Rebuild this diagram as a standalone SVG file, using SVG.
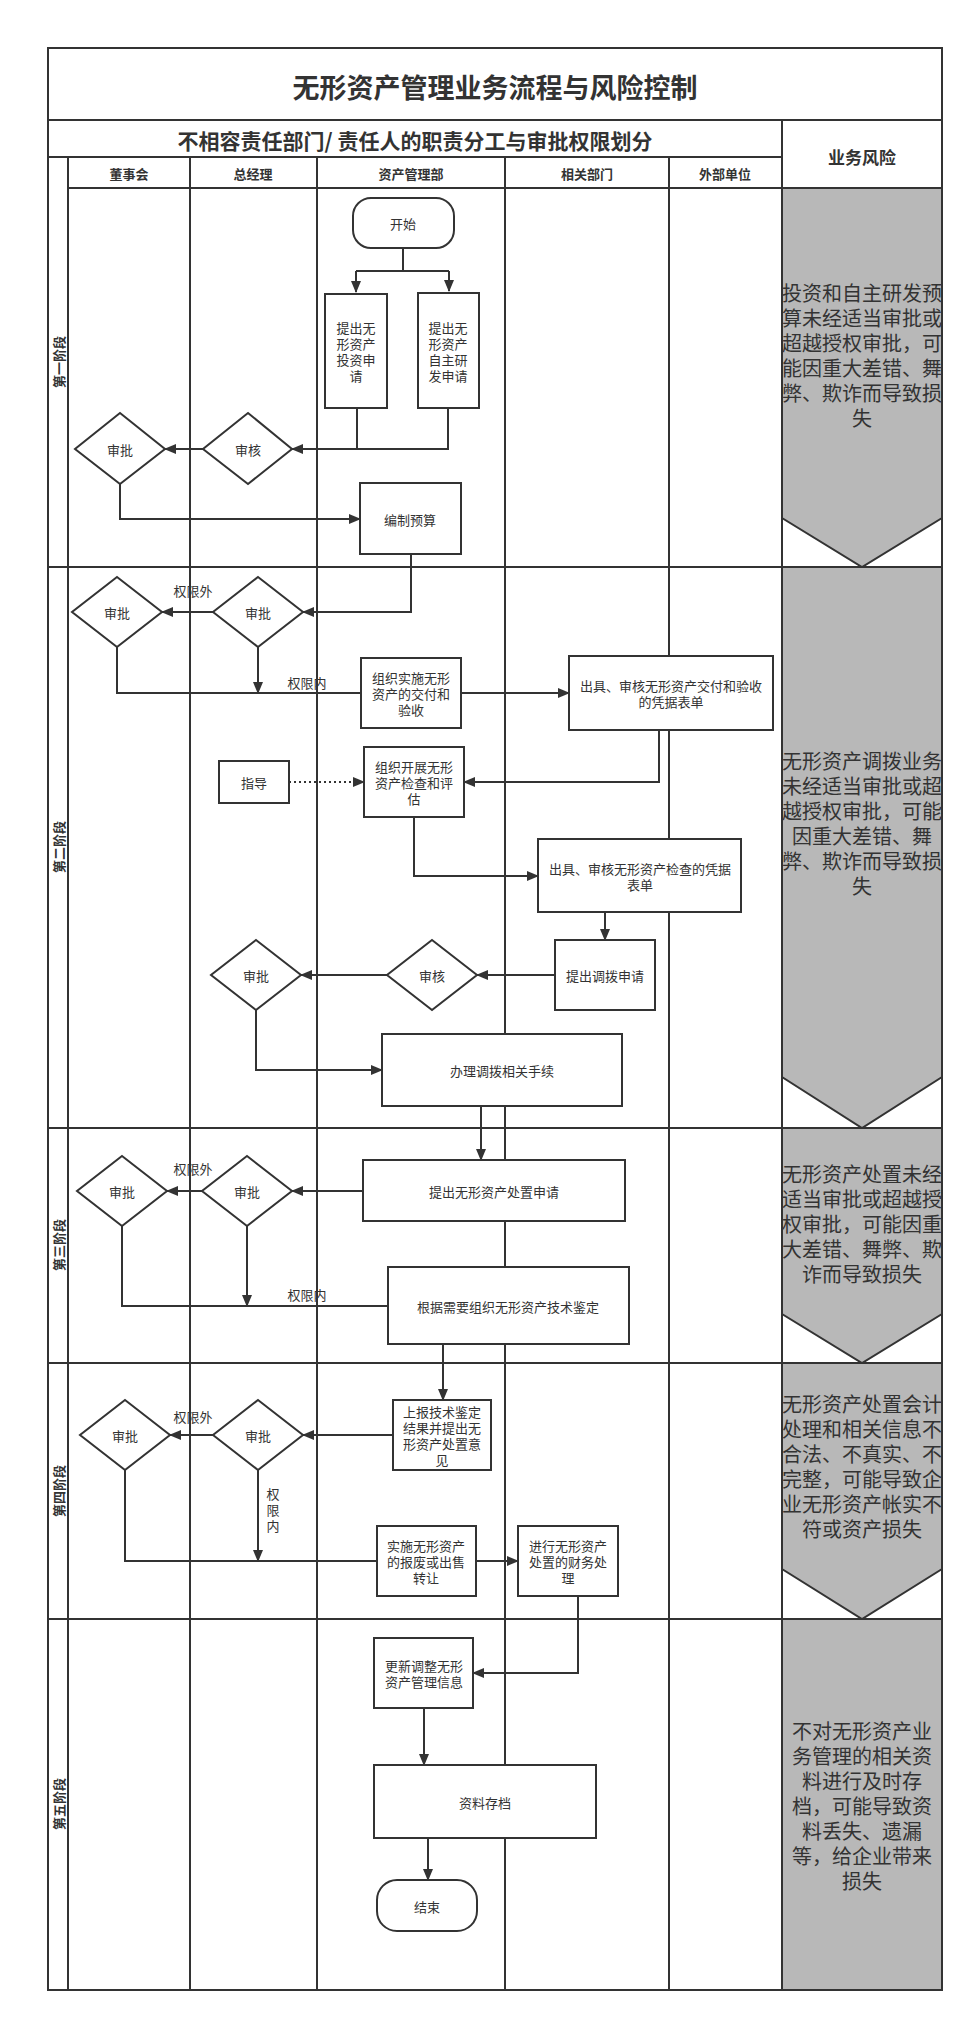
<svg xmlns="http://www.w3.org/2000/svg" width="975" height="2023" viewBox="0 0 975 2023">
<style>
text{font-family:"Noto Sans CJK SC","Noto Sans",sans-serif;fill:#333;}
.t{font-size:13px;text-anchor:middle;dominant-baseline:central;}
.h{font-size:13px;font-weight:bold;text-anchor:middle;dominant-baseline:central;}
.r{font-size:20px;text-anchor:middle;dominant-baseline:central;}
.grid{stroke:#333;stroke-width:2;fill:none;}
.n{fill:#fff;stroke:#333;stroke-width:2;}
.risk{fill:#b8b8b8;stroke:#333;stroke-width:2;}
.c{fill:none;stroke:#333;stroke-width:2;}
</style>
<defs>
<marker id="a" markerWidth="12" markerHeight="10" refX="11" refY="5" orient="auto" markerUnits="userSpaceOnUse"><path d="M0,0 L12,5 L0,10 z" fill="#333"/></marker>
</defs>
<rect width="975" height="2023" fill="#fff"/>
<g id="frame">
<rect class="grid" x="48" y="48" width="894" height="1942"/>
<line class="grid" x1="48" y1="120" x2="942" y2="120"/>
<line class="grid" x1="48" y1="157" x2="782" y2="157"/>
<line class="grid" x1="68" y1="188" x2="942" y2="188"/>
<line class="grid" x1="68" y1="157" x2="68" y2="1990"/>
<line class="grid" x1="190" y1="157" x2="190" y2="1990"/>
<line class="grid" x1="317" y1="157" x2="317" y2="1990"/>
<line class="grid" x1="505" y1="157" x2="505" y2="1990"/>
<line class="grid" x1="669" y1="157" x2="669" y2="1990"/>
<line class="grid" x1="782" y1="120" x2="782" y2="1990"/>
<line class="grid" x1="48" y1="567" x2="782" y2="567"/>
<line class="grid" x1="48" y1="1128" x2="782" y2="1128"/>
<line class="grid" x1="48" y1="1363" x2="782" y2="1363"/>
<line class="grid" x1="48" y1="1619" x2="782" y2="1619"/>
<text x="495" y="86" style="font-size:27px;font-weight:bold;text-anchor:middle;dominant-baseline:central">无形资产管理业务流程与风险控制</text>
<text x="415" y="140" style="font-size:21px;font-weight:bold;text-anchor:middle;dominant-baseline:central">不相容责任部门/ 责任人的职责分工与审批权限划分</text>
<text x="862" y="156" style="font-size:17px;font-weight:bold;text-anchor:middle;dominant-baseline:central">业务风险</text>
<text class="h" x="129" y="173">董事会</text>
<text class="h" x="253" y="173">总经理</text>
<text class="h" x="411" y="173">资产管理部</text>
<text class="h" x="587" y="173">相关部门</text>
<text class="h" x="725" y="173">外部单位</text>
<text class="h" transform="translate(58,362) rotate(-90)">第一阶段</text>
<text class="h" transform="translate(58,847) rotate(-90)">第二阶段</text>
<text class="h" transform="translate(58,1245) rotate(-90)">第三阶段</text>
<text class="h" transform="translate(58,1491) rotate(-90)">第四阶段</text>
<text class="h" transform="translate(58,1804) rotate(-90)">第五阶段</text>
</g>
<g id="risks">
<path class="risk" d="M782,188 H942 V518 L862,567 L782,518 Z"/>
<path class="risk" d="M782,567 H942 V1077 L862,1128 L782,1077 Z"/>
<path class="risk" d="M782,1128 H942 V1314 L862,1363 L782,1314 Z"/>
<path class="risk" d="M782,1363 H942 V1569 L862,1619 L782,1569 Z"/>
<rect class="risk" x="782" y="1619" width="160" height="371"/>
<text class="r" x="862"><tspan x="862" y="292">投资和自主研发预</tspan><tspan x="862" y="317">算未经适当审批或</tspan><tspan x="862" y="342">超越授权审批，可</tspan><tspan x="862" y="367">能因重大差错、舞</tspan><tspan x="862" y="392">弊、欺诈而导致损</tspan><tspan x="862" y="417">失</tspan></text>
<text class="r" x="862"><tspan x="862" y="760">无形资产调拨业务</tspan><tspan x="862" y="785">未经适当审批或超</tspan><tspan x="862" y="810">越授权审批，可能</tspan><tspan x="862" y="835">因重大差错、舞</tspan><tspan x="862" y="860">弊、欺诈而导致损</tspan><tspan x="862" y="885">失</tspan></text>
<text class="r" x="862"><tspan x="862" y="1173">无形资产处置未经</tspan><tspan x="862" y="1198">适当审批或超越授</tspan><tspan x="862" y="1223">权审批，可能因重</tspan><tspan x="862" y="1248">大差错、舞弊、欺</tspan><tspan x="862" y="1273">诈而导致损失</tspan></text>
<text class="r" x="862"><tspan x="862" y="1403">无形资产处置会计</tspan><tspan x="862" y="1428">处理和相关信息不</tspan><tspan x="862" y="1453">合法、不真实、不</tspan><tspan x="862" y="1478">完整，可能导致企</tspan><tspan x="862" y="1503">业无形资产帐实不</tspan><tspan x="862" y="1528">符或资产损失</tspan></text>
<text class="r" x="862"><tspan x="862" y="1730">不对无形资产业</tspan><tspan x="862" y="1755">务管理的相关资</tspan><tspan x="862" y="1780">料进行及时存</tspan><tspan x="862" y="1805">档，可能导致资</tspan><tspan x="862" y="1830">料丢失、遗漏</tspan><tspan x="862" y="1855">等，给企业带来</tspan><tspan x="862" y="1880">损失</tspan></text>
</g>
<g id="connectors">
<path class="c" d="M403,248 V271 M356,271 H449" />
<path class="c" d="M356,271 V292" marker-end="url(#a)"/>
<path class="c" d="M449,271 V291" marker-end="url(#a)"/>
<path class="c" d="M357,408 V449 M448,408 V449 H292" marker-end="url(#a)"/>
<path class="c" d="M203,449 H165" marker-end="url(#a)"/>
<path class="c" d="M120,484 V519 H360" marker-end="url(#a)"/>
<path class="c" d="M411,554 V612 H303" marker-end="url(#a)"/>
<path class="c" d="M213,612 H162" marker-end="url(#a)"/>
<path class="c" d="M117,647 V693 H361 M258,647 V693" marker-end="url(#a)"/>
<path class="c" d="M461,693 H569" marker-end="url(#a)"/>
<path class="c" d="M659,730 V782 H464" marker-end="url(#a)"/>
<path class="c" d="M289,782 H364" stroke-dasharray="2,3" marker-end="url(#a)"/>
<path class="c" d="M414,817 V876 H538" marker-end="url(#a)"/>
<path class="c" d="M605,912 V940" marker-end="url(#a)"/>
<path class="c" d="M555,975 H477" marker-end="url(#a)"/>
<path class="c" d="M387,975 H301" marker-end="url(#a)"/>
<path class="c" d="M256,1010 V1070 H382" marker-end="url(#a)"/>
<path class="c" d="M481,1106 V1160" marker-end="url(#a)"/>
<path class="c" d="M363,1191 H292" marker-end="url(#a)"/>
<path class="c" d="M202,1191 H167" marker-end="url(#a)"/>
<path class="c" d="M122,1226 V1306 H388 M247,1226 V1306" marker-end="url(#a)"/>
<path class="c" d="M443,1344 V1400" marker-end="url(#a)"/>
<path class="c" d="M393,1435 H303" marker-end="url(#a)"/>
<path class="c" d="M213,1435 H170" marker-end="url(#a)"/>
<path class="c" d="M125,1470 V1561 H377 M258,1470 V1561" marker-end="url(#a)"/>
<path class="c" d="M476,1561 H518" marker-end="url(#a)"/>
<path class="c" d="M578,1596 V1673 H473" marker-end="url(#a)"/>
<path class="c" d="M424,1708 V1765" marker-end="url(#a)"/>
<path class="c" d="M428,1838 V1880" marker-end="url(#a)"/>
<text class="t" x="193" y="590">权限外</text>
<text class="t" x="307" y="682">权限内</text>
<text class="t" x="193" y="1168">权限外</text>
<text class="t" x="307" y="1294">权限内</text>
<text class="t" x="193" y="1416">权限外</text>
<text class="t" x="273"><tspan x="273" y="1493">权</tspan><tspan x="273" y="1509">限</tspan><tspan x="273" y="1525">内</tspan></text>
</g>
<g id="start"><rect class="n" x="353" y="198" width="101" height="50" rx="18"/><text class="t" x="403" y="223">开始</text></g>
<g id="p1a"><rect class="n" x="325" y="294" width="62" height="114"/><text class="t"><tspan x="356" y="327">提出无</tspan><tspan x="356" y="343">形资产</tspan><tspan x="356" y="359">投资申</tspan><tspan x="356" y="375">请</tspan></text></g>
<g id="p1b"><rect class="n" x="418" y="293" width="61" height="115"/><text class="t"><tspan x="448" y="327">提出无</tspan><tspan x="448" y="343">形资产</tspan><tspan x="448" y="359">自主研</tspan><tspan x="448" y="375">发申请</tspan></text></g>
<g id="d1a"><path class="n" d="M248,413 L292,449 L248,484 L203,449 Z"/><text class="t" x="248" y="449">审核</text></g>
<g id="d1b"><path class="n" d="M120,413 L165,449 L120,484 L75,449 Z"/><text class="t" x="120" y="449">审批</text></g>
<g id="budget"><rect class="n" x="360" y="483" width="101" height="71"/><text class="t" x="410" y="519">编制预算</text></g>
<g id="d2a"><path class="n" d="M258,577 L303,612 L258,647 L213,612 Z"/><text class="t" x="258" y="612">审批</text></g>
<g id="d2b"><path class="n" d="M117,577 L162,612 L117,647 L72,612 Z"/><text class="t" x="117" y="612">审批</text></g>
<g id="deliver"><rect class="n" x="361" y="658" width="100" height="70"/><text class="t"><tspan x="411" y="677">组织实施无形</tspan><tspan x="411" y="693">资产的交付和</tspan><tspan x="411" y="709">验收</tspan></text></g>
<g id="doc1"><rect class="n" x="569" y="656" width="204" height="74"/><text class="t"><tspan x="671" y="685">出具、审核无形资产交付和验收</tspan><tspan x="671" y="701">的凭据表单</tspan></text></g>
<g id="guide"><rect class="n" x="219" y="761" width="70" height="42"/><text class="t" x="254" y="782">指导</text></g>
<g id="inspect"><rect class="n" x="364" y="747" width="100" height="70"/><text class="t"><tspan x="414" y="766">组织开展无形</tspan><tspan x="414" y="782">资产检查和评</tspan><tspan x="414" y="798">估</tspan></text></g>
<g id="doc2"><rect class="n" x="538" y="839" width="203" height="73"/><text class="t"><tspan x="640" y="868">出具、审核无形资产检查的凭据</tspan><tspan x="640" y="884">表单</tspan></text></g>
<g id="transferreq"><rect class="n" x="555" y="940" width="100" height="70"/><text class="t" x="605" y="975">提出调拨申请</text></g>
<g id="d2c"><path class="n" d="M432,940 L477,975 L432,1010 L387,975 Z"/><text class="t" x="432" y="975">审核</text></g>
<g id="d2d"><path class="n" d="M256,940 L301,975 L256,1010 L211,975 Z"/><text class="t" x="256" y="975">审批</text></g>
<g id="transfer"><rect class="n" x="382" y="1034" width="240" height="72"/><text class="t" x="502" y="1070">办理调拨相关手续</text></g>
<g id="disposereq"><rect class="n" x="363" y="1160" width="262" height="61"/><text class="t" x="494" y="1191">提出无形资产处置申请</text></g>
<g id="d3a"><path class="n" d="M247,1156 L292,1191 L247,1226 L202,1191 Z"/><text class="t" x="247" y="1191">审批</text></g>
<g id="d3b"><path class="n" d="M122,1156 L167,1191 L122,1226 L77,1191 Z"/><text class="t" x="122" y="1191">审批</text></g>
<g id="appraise"><rect class="n" x="388" y="1267" width="241" height="77"/><text class="t" x="508" y="1306">根据需要组织无形资产技术鉴定</text></g>
<g id="report"><rect class="n" x="393" y="1400" width="98" height="70"/><text class="t"><tspan x="442" y="1411">上报技术鉴定</tspan><tspan x="442" y="1427">结果并提出无</tspan><tspan x="442" y="1443">形资产处置意</tspan><tspan x="442" y="1459">见</tspan></text></g>
<g id="d4a"><path class="n" d="M258,1400 L303,1435 L258,1470 L213,1435 Z"/><text class="t" x="258" y="1435">审批</text></g>
<g id="d4b"><path class="n" d="M125,1400 L170,1435 L125,1470 L80,1435 Z"/><text class="t" x="125" y="1435">审批</text></g>
<g id="execute"><rect class="n" x="377" y="1526" width="99" height="70"/><text class="t"><tspan x="426" y="1545">实施无形资产</tspan><tspan x="426" y="1561">的报废或出售</tspan><tspan x="426" y="1577">转让</tspan></text></g>
<g id="finance"><rect class="n" x="518" y="1526" width="100" height="70"/><text class="t"><tspan x="568" y="1545">进行无形资产</tspan><tspan x="568" y="1561">处置的财务处</tspan><tspan x="568" y="1577">理</tspan></text></g>
<g id="update"><rect class="n" x="374" y="1638" width="99" height="70"/><text class="t"><tspan x="424" y="1665">更新调整无形</tspan><tspan x="424" y="1681">资产管理信息</tspan></text></g>
<g id="archive"><rect class="n" x="374" y="1765" width="222" height="73"/><text class="t" x="485" y="1802">资料存档</text></g>
<g id="end"><rect class="n" x="377" y="1880" width="100" height="51" rx="20"/><text class="t" x="427" y="1906">结束</text></g>
</svg>
